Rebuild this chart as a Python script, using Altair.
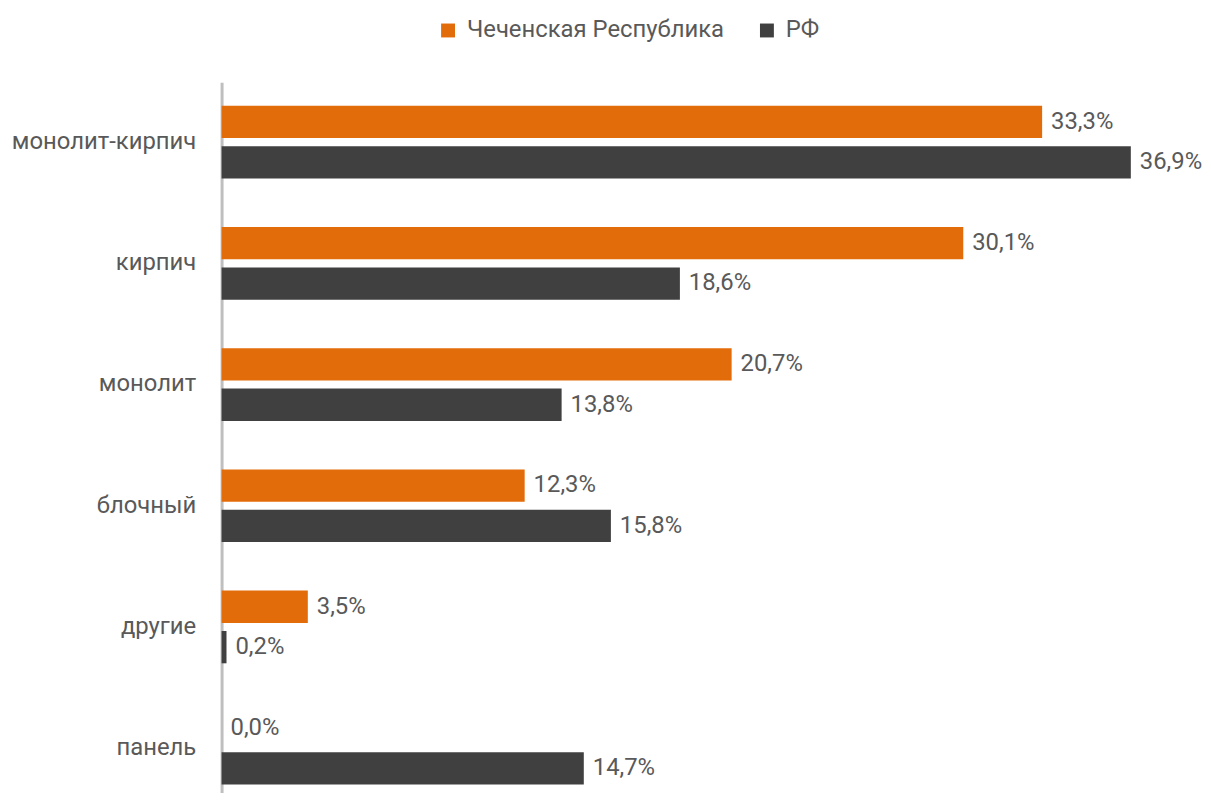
import altair as alt
import pandas as pd

categories = ["монолит-кирпич", "кирпич", "монолит", "блочный", "другие", "панель"]
series = ["Чеченская Республика", "РФ"]
chechnya = [33.3, 30.1, 20.7, 12.3, 3.5, 0.0]
russia = [36.9, 18.6, 13.8, 15.8, 0.2, 14.7]
colors = ["#E36C0A", "#404040"]

rows = []
for i, c in enumerate(categories):
    for s, vals in zip(series, [chechnya, russia]):
        v = vals[i]
        rows.append({"cat": c, "series": s, "value": v,
                     "label": f"{v:.1f}".replace(".", ",") + "%"})
df = pd.DataFrame(rows)

y = alt.Y("cat:N", sort=categories,
          scale=alt.Scale(paddingInner=0.4, paddingOuter=0.13, align=0.75),
          axis=alt.Axis(title=None, ticks=False, labelFontSize=24, labelColor="#595959",
                        labelFont="Roboto", labelPadding=26, labelLimit=400,
                        domainColor="#BFBFBF", domainWidth=3))
yoff = alt.YOffset("series:N", sort=series, scale=alt.Scale(paddingInner=0.2, paddingOuter=0))
x = alt.X("value:Q", scale=alt.Scale(domain=[0, 38.7], nice=False), axis=None)

bars = alt.Chart(df).mark_bar().encode(
    x=x, y=y, yOffset=yoff,
    color=alt.Color("series:N", sort=series,
                    scale=alt.Scale(domain=series, range=colors),
                    legend=alt.Legend(title=None, orient="none", direction="horizontal",
                                      legendX=216, legendY=-64, labelLimit=500,
                                      labelFontSize=24, labelColor="#595959", labelFont="Roboto",
                                      symbolType="square", symbolSize=196, symbolStrokeWidth=0,
                                      columnPadding=30, labelOffset=7)),
)

text = alt.Chart(df).mark_text(align="left", baseline="middle", dx=9, fontSize=24,
                               font="Roboto", color="#595959").encode(
    x=x, y=y, yOffset=yoff, text="label:N")

chart = (bars + text).properties(
    width=960, height=715,
    padding={"left": 3, "top": 8, "right": 0, "bottom": 0},
).configure_view(stroke=None)

chart.save("out.html", embed_options={"renderer": "svg", "actions": False})
